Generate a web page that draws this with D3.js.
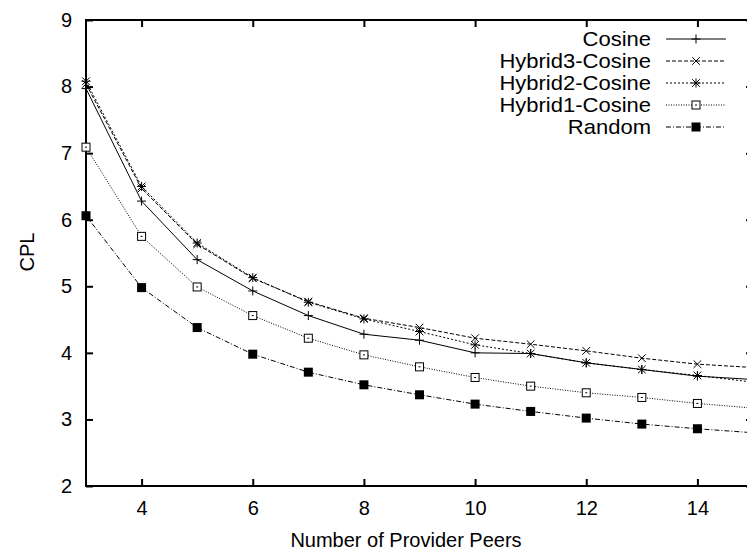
<!DOCTYPE html>
<meta charset="utf-8">
<style>
body { margin: 0; background: #fff; }
text { font-family: "Liberation Sans", Arial, sans-serif; fill: #000; }
.axis path, .axis line { stroke: #000; stroke-width: 2; }
.axis text { font-size: 20px; }
.series path { fill: none; stroke: #000; stroke-width: 1; }
</style>
<body>
<script src="https://d3js.org/d3.v7.min.js"></script>
<script>

var peers = [3, 4, 5, 6, 7, 8, 9, 10, 11, 12, 13, 14, 15];

var cosine  = [7.97, 6.28, 5.40, 4.93, 4.56, 4.28, 4.19, 4.00, 3.99, 3.85, 3.75, 3.65, 3.60];
var hybrid3 = [8.04, 6.47, 5.63, 5.12, 4.77, 4.52, 4.38, 4.22, 4.13, 4.03, 3.92, 3.83, 3.78];
var hybrid2 = [8.08, 6.50, 5.65, 5.13, 4.76, 4.51, 4.32, 4.12, 3.99, 3.85, 3.75, 3.66, 3.56];
var hybrid1 = [7.09, 5.75, 4.99, 4.56, 4.22, 3.97, 3.79, 3.63, 3.50, 3.40, 3.33, 3.24, 3.17];
var random  = [6.06, 4.98, 4.38, 3.98, 3.71, 3.52, 3.37, 3.23, 3.12, 3.02, 2.93, 2.86, 2.80];

var seriesNames = ["Cosine", "Hybrid3-Cosine", "Hybrid2-Cosine", "Hybrid1-Cosine", "Random"];
var xTicks = [4, 6, 8, 10, 12, 14];
var yTicks = [2, 3, 4, 5, 6, 7, 8, 9];

var series = [
    {name: seriesNames[0], values: cosine,  dash: null,        marker: "plus"},
    {name: seriesNames[1], values: hybrid3, dash: "4,2",       marker: "cross"},
    {name: seriesNames[2], values: hybrid2, dash: "2,2",       marker: "star"},
    {name: seriesNames[3], values: hybrid1, dash: "1,1.5",     marker: "box"},
    {name: seriesNames[4], values: random,  dash: "5,2,1,2",   marker: "fbox"}
];

var width = 747, height = 554;
var plot = {left: 86, right: 753, top: 20, bottom: 486};

var svg = d3.select("body").append("svg")
    .attr("width", width)
    .attr("height", height);

var x = d3.scaleLinear().domain([3, 15]).range([plot.left, plot.right]);
var y = d3.scaleLinear().domain([2, 9]).range([plot.bottom, plot.top]);

// axes: ticks point inward, gnuplot style
svg.append("g")
    .attr("class", "axis")
    .attr("transform", "translate(0," + plot.bottom + ")")
    .call(d3.axisBottom(x).tickValues(xTicks).tickSize(-7).tickPadding(15).tickFormat(d3.format("d")))
    .call(g => g.select(".domain").remove());

svg.append("g")
    .attr("class", "axis")
    .attr("transform", "translate(" + plot.left + ",0)")
    .call(d3.axisLeft(y).tickValues(yTicks).tickSize(-7).tickPadding(14).tickFormat(d3.format("d")))
    .call(g => g.select(".domain").remove());

svg.append("g")
    .attr("class", "axis")
    .attr("transform", "translate(0," + plot.top + ")")
    .call(d3.axisTop(x).tickValues(xTicks).tickSize(-7).tickFormat(""))
    .call(g => g.select(".domain").remove());

svg.append("g")
    .attr("class", "axis")
    .attr("transform", "translate(" + plot.right + ",0)")
    .call(d3.axisRight(y).tickValues(yTicks).tickSize(-7).tickFormat(""))
    .call(g => g.select(".domain").remove());

svg.append("rect")
    .attr("x", plot.left)
    .attr("y", plot.top)
    .attr("width", plot.right - plot.left)
    .attr("height", plot.bottom - plot.top)
    .attr("fill", "none")
    .attr("stroke", "#000")
    .attr("stroke-width", 2);

svg.append("text")
    .attr("x", 406)
    .attr("y", 547)
    .attr("text-anchor", "middle")
    .style("font-size", "20px")
    .text("Number of Provider Peers");

svg.append("text")
    .attr("transform", "translate(34,252) rotate(-90)")
    .attr("text-anchor", "middle")
    .style("font-size", "20px")
    .text("CPL");

function drawMarker(g, type) {
    var s = 4.5;
    if (type == "plus" || type == "star") {
        g.append("path").attr("d", "M" + (-s) + ",0H" + s + "M0," + (-s) + "V" + s)
            .attr("stroke", "#000").attr("stroke-width", 1).attr("fill", "none");
    }
    if (type == "cross" || type == "star") {
        var c = s * 0.85;
        g.append("path").attr("d", "M" + (-c) + "," + (-c) + "L" + c + "," + c + "M" + (-c) + "," + c + "L" + c + "," + (-c))
            .attr("stroke", "#000").attr("stroke-width", 1).attr("fill", "none");
    }
    if (type == "box") {
        g.append("rect").attr("x", -4).attr("y", -4).attr("width", 8).attr("height", 8)
            .attr("fill", "#fff").attr("stroke", "#000").attr("stroke-width", 1);
        g.append("rect").attr("x", -1).attr("y", -0.5).attr("width", 2).attr("height", 1)
            .attr("fill", "#000");
    }
    if (type == "fbox") {
        g.append("rect").attr("x", -4.5).attr("y", -4.5).attr("width", 9).attr("height", 9)
            .attr("fill", "#000");
    }
}

var line = d3.line()
    .x(function(d, i) { return x(peers[i]); })
    .y(function(d) { return y(d); });

var groups = svg.selectAll(".series")
    .data(series)
  .enter().append("g")
    .attr("class", "series");

groups.append("path")
    .attr("d", function(d) { return line(d.values); })
    .attr("stroke-dasharray", function(d) { return d.dash; });

groups.each(function(s) {
    var g = d3.select(this);
    s.values.forEach(function(v, i) {
        var m = g.append("g").attr("transform", "translate(" + x(peers[i]) + "," + y(v) + ")");
        drawMarker(m, s.marker);
    });
});

// legend (text in the original is a little wider than the tick labels)
var legend = svg.append("g").attr("class", "legend");
series.forEach(function(s, i) {
    var cy = 39 + i * 22;
    legend.append("text")
        .attr("transform", "translate(651," + cy + ") scale(1.1,1)")
        .attr("dy", "0.35em")
        .attr("text-anchor", "end")
        .style("font-size", "20px")
        .text(s.name);
    legend.append("line")
        .attr("x1", 666).attr("x2", 726)
        .attr("y1", cy).attr("y2", cy)
        .attr("stroke", "#000")
        .attr("stroke-width", 1)
        .attr("stroke-dasharray", s.dash);
    var m = legend.append("g").attr("transform", "translate(696," + cy + ")");
    drawMarker(m, s.marker);
});

</script>
